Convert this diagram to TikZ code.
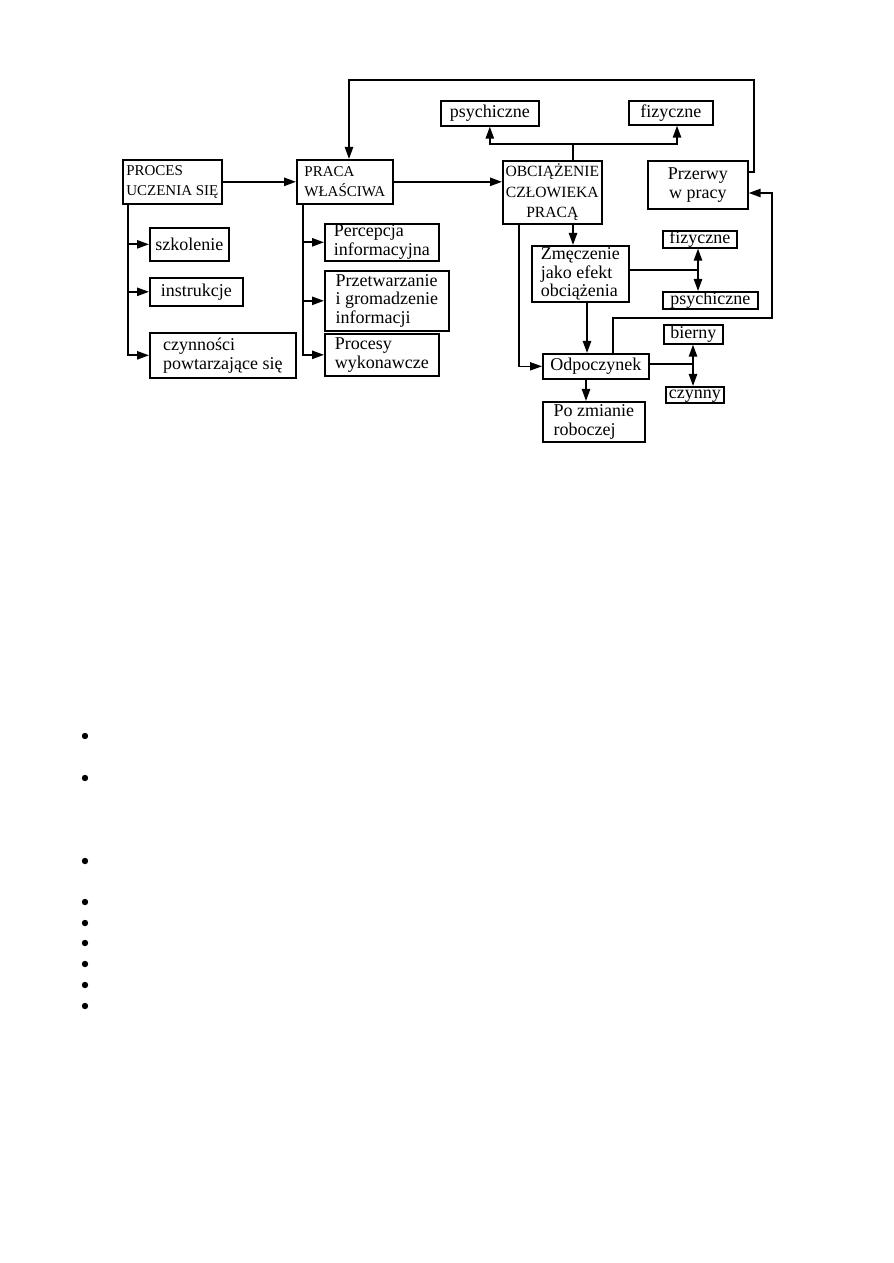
\documentclass[tikz,border=0pt]{standalone}
\usepackage{fontspec}
\setmainfont{Liberation Serif}
\usetikzlibrary{arrows.meta}

\tikzset{
  box/.style={draw,line width=1.1pt,inner sep=0pt,anchor=north west,
    font=\fontsize{12}{12.5}\selectfont},
  mbox/.style={box,align=left},
  sbox/.style={box,text height=8pt,text depth=2.6pt},
  capbox/.style={mbox,font=\fontsize{10}{13}\selectfont},
  sz/.style 2 args={minimum width=#1*0.6666pt,minimum height=#2*0.6666pt},
  link/.style={line width=1.2pt},
  arr/.style={link,-{Triangle[length=8pt,width=5.5pt]}},
}

\begin{document}
\begin{tikzpicture}[x=0.6666pt,y=-0.6666pt]
\useasboundingbox (0,0) rectangle (893,1263);

% main row
\node[capbox,sz={99}{44}] (proces) at (122,159) {PROCES\\UCZENIA SIĘ};
\node[capbox,sz={96}{44}] (praca) at (296,159) {PRACA\\WŁAŚCIWA};
\node[capbox,align=center,font=\fontsize{10.4}{13.5}\selectfont,sz={99}{63}] (obc) at (502,160) {OBCIĄŻENIE\\CZŁOWIEKA\\PRACĄ};
\node[mbox,align=center,sz={100}{48}] (przerwy) at (647,160) {Przerwy\\w pracy};
\node[box,sz={98}{25}] (psy1) at (440,100) {psychiczne};
\node[box,sz={84}{24}] (fiz1) at (628,100) {fizyczne};

% left branches
\node[box,sz={79}{33}] (szk) at (149,227) {szkolenie};
\node[box,sz={93}{28}] (ins) at (149,277) {instrukcje};
\node[mbox,sz={146}{45}] (czy) at (149,332) {czynności\\powtarzające się};
\node[mbox,sz={114}{37}] (perc) at (324,223) {Percepcja\\informacyjna};
\node[mbox,sz={124}{60}] (prz) at (324,270) {Przetwarzanie\\i gromadzenie\\informacji};
\node[mbox,sz={114}{42}] (proc) at (324,333) {Procesy\\wykonawcze};

% right part
\node[mbox,sz={97}{56}] (zm) at (531,245) {Zmęczenie\\jako efekt\\obciążenia};
\node[sbox,sz={74}{17}] (fiz2) at (662,230) {fizyczne};
\node[sbox,sz={95}{17}] (psy2) at (662,291) {psychiczne};
\node[box,sz={106}{25}] (odp) at (542,353) {Odpoczynek};
\node[sbox,sz={59}{19}] (bier) at (663,324) {bierny};
\node[sbox,sz={58}{16}] (czyn) at (665,386) {czynny};
\node[mbox,sz={102}{40}] (po) at (542,401) {Po zmianie\\roboczej};

\coordinate (ob1) at (573,144);
\coordinate (zf) at (698,270);
\coordinate (bc) at (693,364);

\draw[arr] (proces) -- (praca);
\draw[arr] (praca.east) -- (praca.east -| obc.west);
\draw[arr] (przerwy.east |- 0,172) -| (754,80) -| (praca.north -| 349,0);
\draw[link] (obc.north -| ob1) -- (ob1);
\draw[arr] (ob1) -| (psy1);
\draw[arr] (ob1) -| (fiz1.south -| 677,0);

\foreach \n in {szk,ins,czy}
  \draw[arr] (proces.south -| 128,0) |- (\n.west);
\foreach \n in {perc,prz,proc}
  \draw[arr] (praca.south -| 303,0) |- (\n.west);

\draw[arr] (obc.south -| 573,0) -- (zm.north -| 573,0);
\draw[arr,line width=0.7pt] (obc.south -| 519,0) |- (odp);
\draw[arr] (zm.south -| 587,0) -- (odp.north -| 587,0);
\draw[link] (zm.east |- zf) -- (zf);
\draw[arr] (zf) -- (fiz2.south -| zf);
\draw[arr] (zf) -- (psy2.north -| zf);
\draw[link] (odp.east |- bc) -- (bc);
\draw[arr] (bc) -- (bier.south -| bc);
\draw[arr] (bc) -- (czyn.north -| bc);
\draw[arr] (odp.north -| 613,0) |- (772,318) |- (przerwy.east |- 0,193);
\draw[arr] (odp.south -| 586,0) -- (po.north -| 586,0);

% bullets
\foreach \y in {736,778,861,902,923,943,964,985,1006}
  \fill (85,\y) circle[radius=3.2];
\end{tikzpicture}
\end{document}
